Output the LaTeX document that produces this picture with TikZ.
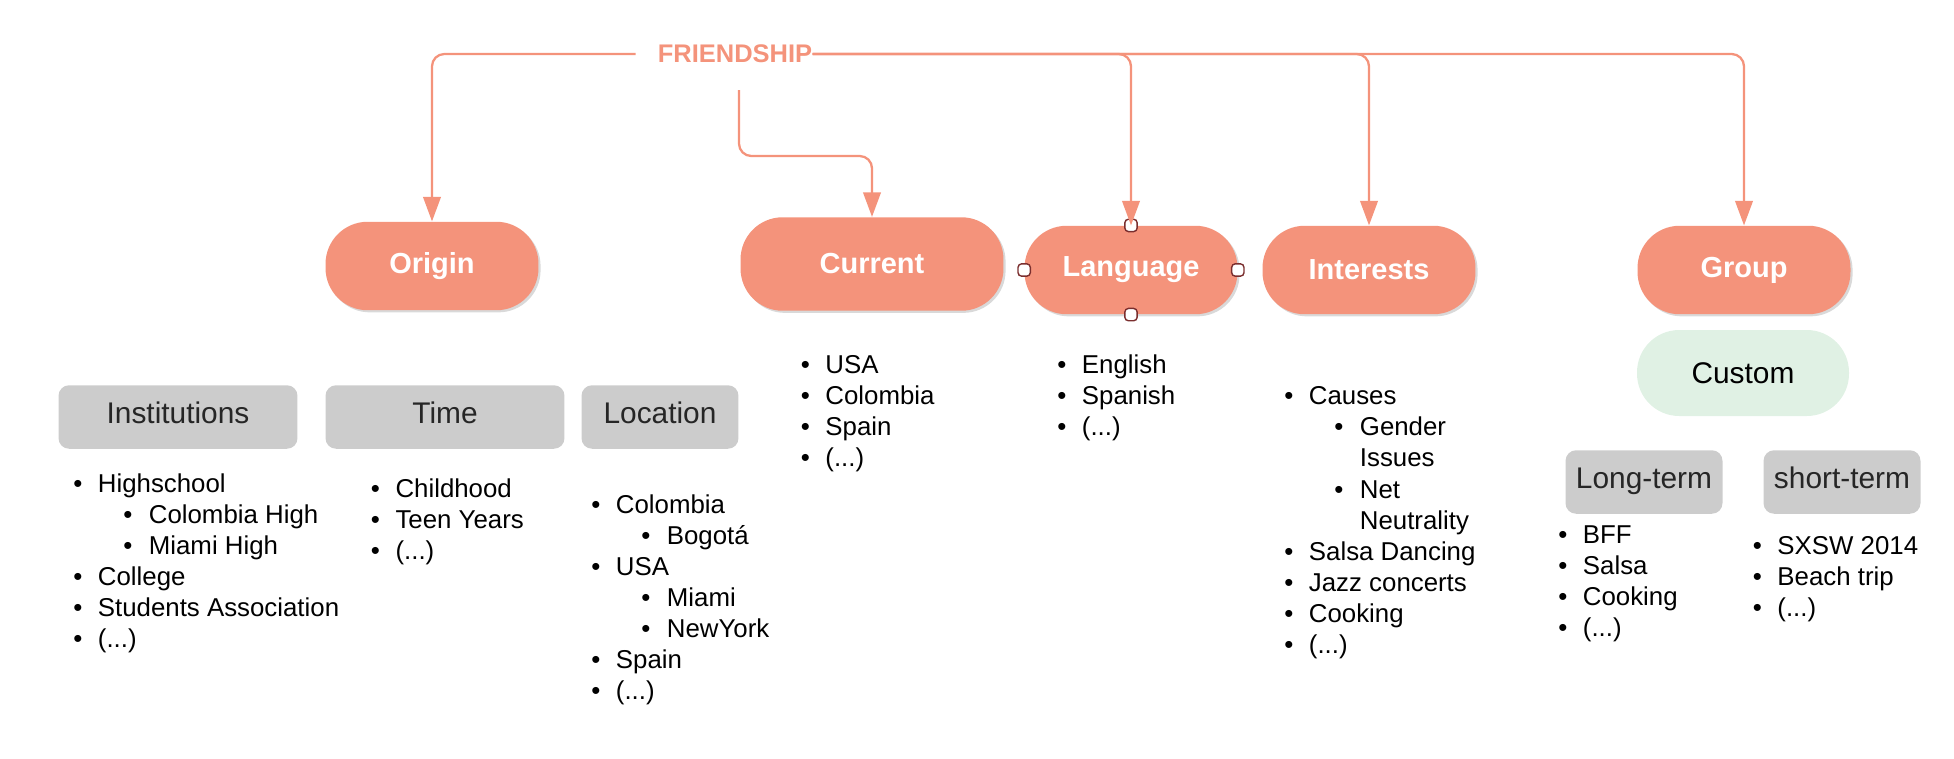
\documentclass[tikz,border=0pt]{standalone}
\usepackage{fontspec}
\setmainfont{Liberation Sans}
\usetikzlibrary{arrows.meta,shadows}

\definecolor{salmon}{HTML}{F4937B}
\definecolor{boxgray}{HTML}{CCCCCC}
\definecolor{mint}{HTML}{E0F1E4}
\definecolor{handle}{HTML}{7A2E2E}

% bullets for the lists
\newcommand{\bul}{\strut\makebox[14pt][l]{\textbullet}}
\newcommand{\subbul}{\strut\hspace*{28.5pt}\makebox[14.5pt][l]{\textbullet}}
\newcommand{\subgap}{\strut\hspace*{43pt}}

\begin{document}
\begin{tikzpicture}[x=0.02cm, y=-0.02cm,
    cat/.style={fill=salmon, text=white, font=\fontsize{16.5}{20}\selectfont\bfseries,
      rounded corners=24pt, minimum width=4.26cm, minimum height=1.77cm,
      drop shadow={shadow xshift=1.2pt, shadow yshift=-1.2pt, opacity=0.3}},
    sub/.style={fill=boxgray, text=black!85, font=\fontsize{17}{20}\selectfont,
      rounded corners=6pt, minimum height=1.27cm, text height=12pt, text depth=5pt},
    list/.style={anchor=north west, inner sep=0pt, align=left,
      font=\fontsize{14.7}{17.7}\selectfont},
    link/.style={draw=salmon, line width=1.3pt, rounded corners=7pt,
      -{Triangle[length=14pt,width=10pt]}},
    grip/.style={draw=handle, fill=white, line width=0.8pt, rounded corners=2pt,
      minimum size=7pt, inner sep=0pt}]
  \useasboundingbox (0,0) rectangle (1954,758);

  % Root label
  \node[text=salmon, font=\fontsize{14.5}{17}\selectfont\bfseries, inner xsep=0pt] (friend) at (735,54) {FRIENDSHIP};
  \coordinate (fleft) at ([xshift=-12.5pt]friend.west);
  \coordinate (cstart) at (739,90);

  % Main categories
  \node[cat] (origin) at (432,266) {Origin};
  \node[cat, minimum width=5.26cm, minimum height=1.87cm] (current) at (872,264) {Current};
  \node[cat] (language) at (1131,270) {Language};
  \node[cat] (interests) at (1369,270) {Interests};
  \node[cat] (group) at (1744,270) {Group};
  \node[fill=mint, font=\fontsize{17}{20}\selectfont, rounded corners=24pt,
    minimum width=4.24cm, minimum height=1.72cm] (custom) at (1743,373) {Custom};

  % Selection handles on Language
  \node[grip] (hn) at (language.north) {};
  \node[grip] (hs) at (language.south) {};
  \node[grip] (hw) at (language.west) {};
  \node[grip] (he) at (language.east) {};

  % Connectors
  \draw[link] (fleft) -| (origin.north);
  \draw[link] (cstart) -- ++(0,66) -| (current.north);
  \draw[link] (friend.east) -| (language.north);
  \draw[link] (friend.east) -| (interests.north);
  \draw[link] (friend.east) -| (group.north);

  % Sub boxes
  \node[sub, minimum width=4.78cm] (inst) at (178,417) {Institutions};
  \node[sub, minimum width=4.78cm] (time) at (445,417) {Time};
  \node[sub, minimum width=3.14cm] (loc) at (660,417) {Location};
  \node[sub, minimum width=3.14cm] (longt) at (1644,482) {Long-term};
  \node[sub, minimum width=3.14cm] (shortt) at (1842,482) {short-term};

  % Lists
  \node[list] (instlist) at (73,470) {\bul Highschool\\ \subbul Colombia High\\ \subbul Miami High\\
    \bul College\\ \bul Students Association\\ \bul (...)};
  \node[list] (timelist) at (370.6,475) {\bul Childhood\\ \bul Teen Years\\ \bul (...)};
  \node[list] (loclist) at (591,491) {\bul Colombia\\ \subbul Bogotá\\ \bul USA\\ \subbul Miami\\
    \subbul NewYork\\ \bul Spain\\ \bul (...)};
  \node[list] (curlist) at (800.5,351.5) {\bul USA\\ \bul Colombia\\ \bul Spain\\ \bul (...)};
  \node[list] (langlist) at (1057,351.5) {\bul English\\ \bul Spanish\\ \bul (...)};
  \node[list] (intlist) at (1284,382.6) {\bul Causes\\ \subbul Gender\\ \subgap Issues\\ \subbul Net\\
    \subgap Neutrality\\ \bul Salsa Dancing\\ \bul Jazz concerts\\ \bul Cooking\\ \bul (...)};
  \node[list] (longlist) at (1558,521) {\bul BFF\\ \bul Salsa\\ \bul Cooking\\ \bul (...)};
  \node[list] (shortlist) at (1752.5,532) {\bul SXSW 2014\\ \bul Beach trip\\ \bul (...)};
\end{tikzpicture}
\end{document}
